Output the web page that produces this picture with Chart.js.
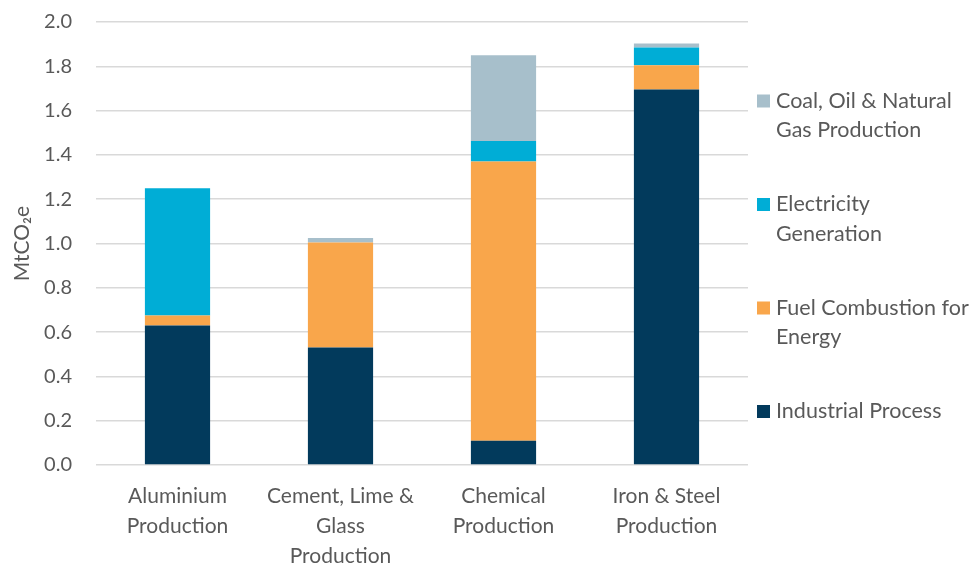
<!DOCTYPE html>
<html>
<head>
<meta charset="utf-8">
<script src="https://cdn.jsdelivr.net/npm/chart.js@4"></script>
<style>
  html, body { margin: 0; padding: 0; background: #fff; }
  #wrap { width: 977px; height: 564px; }
</style>
</head>
<body>
<div id="wrap"><canvas id="emissionsChart" width="977" height="564"></canvas></div>
<script>
// categories (multi-line x labels)
const categories = [
  ['Aluminium', 'Production'],
  ['Cement, Lime &', 'Glass', 'Production'],
  ['Chemical', 'Production'],
  ['Iron & Steel', 'Production']
];

// series values, MtCO2e
const industrialProcess = [0.63, 0.53, 0.11, 1.695];
const fuelCombustion = [0.045, 0.475, 1.26, 0.11];
const electricityGeneration = [0.575, 0, 0.093, 0.08];
const coalOilGasProduction = [0, 0.02, 0.387, 0.018];

const seriesLabels = ['Industrial Process', 'Fuel Combustion for Energy', 'Electricity Generation', 'Coal, Oil & Natural Gas Production'];
const legendLines = [
  ['Industrial Process'],
  ['Fuel Combustion for', 'Energy'],
  ['Electricity', 'Generation'],
  ['Coal, Oil & Natural', 'Gas Production']
];
const seriesColors = ['#023A5C', '#F9A64B', '#00ADD6', '#A7BFCB'];

const yMin = 0, yMax = 2.0, yStep = 0.2;

const FONT = 'Lato, "Open Sans", sans-serif';
const TEXT = '#595959';

// legend on the right, items listed top-down in reverse stack order
const sideLegend = {
  id: 'sideLegend',
  afterDraw(chart) {
    const ctx = chart.ctx;
    const x = 757, box = 13;
    let y = 101;
    ctx.save();
    ctx.font = '21.5px ' + FONT;
    ctx.textBaseline = 'middle';
    for (let i = chart.data.datasets.length - 1; i >= 0; i--) {
      const ds = chart.data.datasets[i];
      ctx.fillStyle = ds.backgroundColor;
      ctx.fillRect(x, y - box / 2, box, box);
      ctx.fillStyle = TEXT;
      legendLines[i].forEach((line, k) => {
        ctx.fillText(line, x + 19, y + k * 29.5);
      });
      y += 103.5;
    }
    ctx.restore();
  }
};

const ctx = document.getElementById('emissionsChart').getContext('2d');
const emissionsChart = new Chart(ctx, {
  type: 'bar',
  data: {
    labels: categories,
    datasets: [
      { label: seriesLabels[0], data: industrialProcess, backgroundColor: seriesColors[0] },
      { label: seriesLabels[1], data: fuelCombustion, backgroundColor: seriesColors[1] },
      { label: seriesLabels[2], data: electricityGeneration, backgroundColor: seriesColors[2] },
      { label: seriesLabels[3], data: coalOilGasProduction, backgroundColor: seriesColors[3] }
    ]
  },
  options: {
    responsive: false,
    animation: false,
    categoryPercentage: 1.0,
    barPercentage: 0.4,
    layout: { padding: { left: 0, right: 229, top: 22, bottom: 0 } },
    plugins: {
      legend: { display: false },
      tooltip: { enabled: false }
    },
    scales: {
      x: {
        stacked: true,
        grid: { display: false },
        border: { display: false },
        ticks: {
          color: TEXT,
          padding: 8,
          maxRotation: 0,
          autoSkip: false,
          font: { family: FONT, size: 21, lineHeight: 1.43 }
        },
        afterFit(scale) { scale.height = 99; }
      },
      y: {
        stacked: true,
        min: yMin,
        max: yMax,
        grid: { color: '#D9D9D9', lineWidth: 1.5, drawTicks: false },
        border: { display: false },
        ticks: {
          stepSize: yStep,
          color: TEXT,
          padding: 24,
          font: { family: FONT, size: 20 },
          callback: v => v.toFixed(1)
        },
        title: {
          display: true,
          text: 'MtCO₂e',
          color: TEXT,
          padding: { top: 10, bottom: 0 },
          font: { family: FONT, size: 21 }
        },
        afterFit(scale) {
          scale.width = 96;
          scale.paddingTop = 0;
          scale.paddingBottom = 0;
        }
      }
    }
  },
  plugins: [sideLegend]
});
</script>
</body>
</html>
